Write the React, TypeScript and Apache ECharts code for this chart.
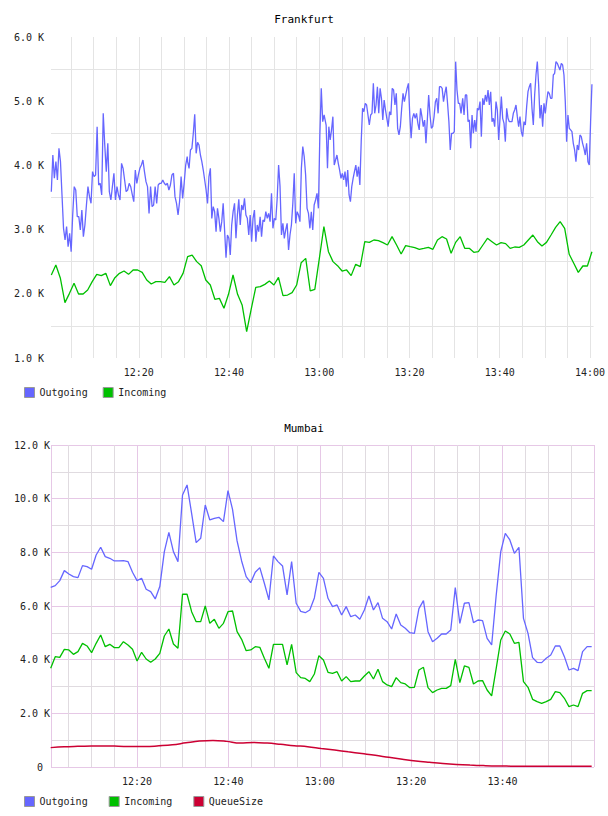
import React, { useEffect, useRef } from "react";
import * as echarts from "echarts";

// ---------- DATA ----------
const TITLES = ["Frankfurt", "Mumbai"];
const LEGEND_FRA = ["Outgoing", "Incoming"];
const LEGEND_MUM = ["Outgoing", "Incoming", "QueueSize"];

// time spans are minutes after 12:00
const FRA_OUT_A_SPAN = [0.62, 30.74];
const FRA_OUT_A = [
  3591, 4162, 3799, 4058, 3773, 4266, 4058, 3539, 3020, 2838, 3046, 2734, 2942, 2656, 3227, 3669, 3617, 3201, 3201,
  2994, 3305, 2890, 3072, 3383, 3669, 3513, 3409, 3903, 3825, 3850, 4603, 3695, 3721, 3539, 4811, 4318, 3903, 4344,
  3591, 3461, 3669, 3877, 3461, 3669, 3539, 3461, 4032, 3954, 3773, 3591, 3617, 3721, 3669, 3550, 3435, 3928, 3721,
  3851, 3954, 4006, 4084, 3903, 3747, 3669, 3253, 3669, 3357, 3383, 3669, 3409, 3695, 3721, 3721, 3773, 3721, 3695,
  3721, 3617, 3695, 3851, 3877, 3513, 3409, 3227, 3435, 3825, 3487, 3721, 4006, 4136,
];
const FRA_OUT_B_SPAN = [30.83, 61.08];
const FRA_OUT_B = [
  4058, 3954, 4240, 4266, 4500, 4796, 4188, 4359, 4318, 4162, 4058, 3928, 3773, 3617, 3409, 3825, 3954, 3175, 3357,
  3279, 2968, 3331, 3175, 2968, 3124, 3409, 2994, 2563, 2916, 2864, 2604, 3072, 3279, 3409, 2864, 3227, 3472, 3072,
  3383, 3305, 3487, 3227, 3175, 2916, 3227, 2812, 3175, 3305, 2812, 3072, 2968, 3201, 2890, 3150, 3124, 3279, 3175,
  3253, 3124, 3565, 3020, 3175, 3150, 3487, 4006, 3669, 2916, 3098, 2864, 2994, 3098, 2682, 2916, 3072, 3409, 3877,
  3098, 3279, 3227, 3124, 3954, 4292, 4136, 3851, 3331, 3253, 3020, 3279, 2994, 3383, 3461, 3565, 3331, 4474, 5200,
  4681, 4785,
];
const FRA_OUT_C_SPAN = [61.53, 91.43];
const FRA_OUT_C = [
  4629, 3954, 4603, 4396, 4552, 4759, 4006, 4084, 4162, 4032, 3928, 3799, 3877, 3773, 3903, 3669, 3928, 3539, 3435,
  3669, 3799, 3903, 4006, 3825, 3980, 3695, 4370, 4889, 4837, 4967, 4941, 4785, 4629, 4785, 4811, 5278, 4811, 4941,
  5226, 4811, 5200, 5045, 4707, 5019, 4863, 4733, 4603, 4837, 4785, 5200, 5174, 4941, 5122, 4578, 4474, 4603, 4889,
  5122, 4993, 5097, 5200, 5278, 4785, 4422, 4733, 4811, 4733, 4811, 4655, 4552, 4889, 4759, 4603, 4707, 4344, 4707,
  5097, 4785, 4578, 4603, 4759, 4993, 5045, 4811, 5226, 5226, 5200, 4993, 5122, 5226, 4967, 4681, 4240, 4500, 4500,
  4526, 5616, 5174, 4967, 4967, 4811,
];
const FRA_OUT_D_SPAN = [91.8, 120.44];
const FRA_OUT_D = [
  5045, 4785, 5097, 5097, 4681, 4707, 4266, 4785, 4500, 4707, 4526, 4889, 4863, 4993, 4448, 5045, 4941, 5097, 4993,
  5174, 4941, 5148, 4681, 4733, 4603, 4993, 4863, 4396, 4733, 5071, 4733, 4655, 4370, 4889, 4733, 4681, 4681, 4681,
  4811, 4863, 4941, 4759, 4603, 4759, 4526, 4448, 4681, 4629, 4915, 5148, 5226, 5278, 4889, 4629, 5097, 5408, 5616,
  5252, 4733, 4941, 4603, 4967, 4811, 4993, 5148, 5122, 5045, 5045, 5408, 5434, 5616, 5590, 5538, 5486, 5590, 5564,
  5408, 4993, 4370, 4785, 4578, 4552, 4526, 4344, 4240, 4058, 4318, 4240, 4474, 4448, 4344, 4266, 4162, 4344, 4058,
  4006, 4681, 5263,
];
const FRA_IN_SPAN = [0.62, 120.44];
const FRA_IN = [
  2293, 2449, 2241, 1862, 2007, 2163, 1997, 1997, 2059, 2189, 2303, 2283, 2319, 2127, 2251, 2319, 2355, 2303, 2371,
  2371, 2334, 2215, 2153, 2189, 2189, 2179, 2267, 2137, 2189, 2319, 2578, 2604, 2501, 2438, 2215, 2137, 1914, 1929,
  1774, 1992, 2293, 1992, 1826, 1410, 1760, 2101, 2111, 2147, 2199, 2137, 2257, 1971, 1981, 2018, 2137, 2485, 2552,
  2044, 2070, 2552, 3046, 2656, 2501, 2438, 2355, 2371, 2283, 2459, 2423, 2812, 2801, 2838, 2828, 2796, 2760, 2890,
  2760, 2620, 2750, 2734, 2719, 2693, 2708, 2724, 2693, 2838, 2890, 2854, 2630, 2801, 2890, 2708, 2708, 2646, 2656,
  2760, 2864, 2812, 2760, 2796, 2781, 2708, 2729, 2724, 2760, 2838, 2916, 2812, 2745, 2801, 2916, 3035, 3124, 3020,
  2615, 2475, 2334, 2433, 2433, 2656,
];

const MUM_SPAN = [1.13, 119.49];
const MUM_OUT = [
  6698, 6760, 6946, 7319, 7194, 7095, 7058, 7505, 7468, 7368, 7902, 8188, 7840, 7778, 7679, 7679, 7691, 7654, 7256,
  6946, 7033, 6623, 6536, 6263, 6723, 8026, 8747, 8026, 7654, 10138, 10511, 9455, 8362, 8523, 9765, 9206, 9269, 9306,
  9144, 10300, 9604, 8424, 7679, 7095, 6871, 7256, 7430, 6847, 6226, 7865, 7654, 7492, 6412, 7654, 6101, 5800, 5750,
  5850, 6300, 7250, 7033, 6288, 5977, 6039, 5665, 5977, 5603, 5665, 5503, 5850, 6375, 5850, 6126, 5541, 5416, 5143,
  5702, 5292, 5168, 5006, 4982, 5900, 6200, 5044, 4671, 4795, 4957, 4957, 5106, 6685, 5354, 6102, 6126, 5379, 5478,
  5454, 4795, 4547, 6400, 8026, 8710, 8461, 7964, 8188, 5540, 4982, 4075, 3901, 3889, 4050, 4174, 4510, 4510, 4112,
  3615, 3677, 3590, 4299, 4485, 4485,
];
const MUM_IN = [
  3678, 4112, 4087, 4385, 4361, 4199, 4299, 4609, 4510, 4261, 4609, 4920, 4485, 4572, 4448, 4448, 4671, 4547, 4385,
  3951, 4274, 4025, 3901, 4025, 4236, 4882, 5143, 4584, 4423, 6437, 6437, 5789, 5416, 5416, 6002, 5354, 5503, 5168,
  5354, 5789, 5814, 5044, 4758, 4336, 4361, 4485, 4460, 4050, 3677, 4572, 4572, 4572, 3802, 4572, 3516, 3330, 3300,
  3181, 3466, 4149, 3988, 3528, 3491, 3553, 3205, 3367, 3181, 3205, 3205, 3392, 3553, 3280, 3640, 3181, 3057, 2994,
  3330, 3143, 3094, 2957, 2970, 3615, 3715, 2957, 2771, 2870, 2932, 2932, 3032, 4013, 3143, 3764, 3715, 3094, 3205,
  3218, 2870, 2647, 3677, 4733, 5069, 4957, 4609, 4646, 3181, 2970, 2522, 2435, 2373, 2435, 2522, 2808, 2771, 2560,
  2249, 2311, 2249, 2746, 2845, 2845,
];
const MUM_QUEUE = [
  722, 755, 770, 780, 785, 775, 760, 760, 790, 830, 900, 965, 990, 955, 890, 915, 890, 845, 795, 755, 690, 630, 565,
  500, 435, 360, 290, 225, 175, 130, 95, 70, 52, 38, 32, 28, 26, 25, 25, 25, 25,
];

// ---------- helpers ----------
const spread = (values: number[], span: number[]) =>
  values.map((v, i) => [span[0] + ((span[1] - span[0]) * i) / (values.length - 1), v]);

const MONO = "DejaVu Sans Mono";
const TXT = "#222";
const BLUE = "#6666ff";
const GREEN = "#00c000";
const RED = "#cc0033";

const timeFmt = (showLast: boolean) => (v: number) => {
  const q = v / 20;
  if (Math.abs(q - Math.round(q)) > 1e-6) return "";
  const m = Math.round(v);
  if (!showLast && m >= 120) return "";
  const h = 12 + Math.floor(m / 60);
  const mm = m % 60;
  return `${h}:${mm < 10 ? "0" + mm : mm}`;
};

export default function App() {
  const ref = useRef<HTMLDivElement>(null);
  useEffect(() => {
    if (!ref.current) return;
    const chart = echarts.init(ref.current, null, { renderer: "svg" });
    const label = { fontFamily: MONO, fontSize: 10, color: TXT };
    const fraOut = [
      ...spread(FRA_OUT_A, FRA_OUT_A_SPAN),
      ...spread(FRA_OUT_B, FRA_OUT_B_SPAN),
      ...spread(FRA_OUT_C, FRA_OUT_C_SPAN),
      ...spread(FRA_OUT_D, FRA_OUT_D_SPAN),
    ];
    const lineSeries = (name: string, data: any, color: string, xi: number, yi: number, extra: any = {}) => ({
      name,
      type: "line",
      data,
      xAxisIndex: xi,
      yAxisIndex: yi,
      symbol: "none",
      showSymbol: false,
      color,
      lineStyle: { color, width: 1.3 },
      emphasis: { disabled: true },
      ...extra,
    });
    chart.setOption({
      animation: false,
      backgroundColor: "#fff",
      title: [
        {
          text: TITLES[0],
          left: "center",
          top: 14,
          padding: 0,
          textStyle: { fontFamily: MONO, fontSize: 11, fontWeight: "normal", color: "#000" },
        },
        {
          text: TITLES[1],
          left: "center",
          top: 423,
          padding: 0,
          textStyle: { fontFamily: MONO, fontSize: 11, fontWeight: "normal", color: "#000" },
        },
      ],
      legend: [
        {
          data: LEGEND_FRA,
          left: 24,
          top: 387,
          padding: 0,
          itemWidth: 10,
          itemHeight: 10,
          itemGap: 15,
          icon: "rect",
          itemStyle: { borderColor: "#999", borderWidth: 1 },
          textStyle: label,
          selectedMode: false,
        },
        {
          data: LEGEND_MUM,
          left: 24,
          top: 796,
          padding: 0,
          itemWidth: 10,
          itemHeight: 10,
          itemGap: 21,
          icon: "rect",
          itemStyle: { borderColor: "#999", borderWidth: 1 },
          textStyle: label,
          selectedMode: false,
        },
      ],
      grid: [
        { left: 51, top: 37, width: 543, height: 321 },
        { left: 51, top: 445, width: 543, height: 322 },
      ],
      xAxis: [
        {
          gridIndex: 0,
          type: "value",
          min: 0.55,
          max: 120.8,
          splitNumber: 24,
          axisLine: { show: false },
          axisTick: { show: false },
          splitLine: { show: true, showMinLine: false, showMaxLine: false, lineStyle: { color: "#e4e4e4", width: 1 } },
          axisLabel: { ...label, margin: 9, formatter: timeFmt(true) },
        },
        {
          gridIndex: 1,
          type: "value",
          position: "top",
          min: 1.2,
          max: 120,
          splitNumber: 24,
          axisLine: { show: false },
          axisTick: { show: false },
          axisLabel: { show: false },
          splitLine: { show: true, lineStyle: { color: "#e0dbe0", width: 1 } },
        },
        {
          gridIndex: 1,
          type: "value",
          position: "bottom",
          min: 1.2,
          max: 120,
          splitNumber: 6,
          axisLine: { show: false },
          axisTick: { show: false },
          splitLine: { show: true, lineStyle: { color: "#e6c8e6", width: 1 } },
          axisLabel: { ...label, margin: 9, formatter: timeFmt(false) },
        },
      ],
      yAxis: [
        {
          gridIndex: 0,
          type: "value",
          min: 1000,
          max: 6000,
          interval: 1000,
          axisLine: { show: false },
          axisTick: { show: false },
          splitLine: { show: false },
          minorTick: { show: false, splitNumber: 2 },
          minorSplitLine: { show: true, lineStyle: { color: "#e4e4e4", width: 1 } },
          axisLabel: { ...label, margin: 7, formatter: (v: number) => (v / 1000).toFixed(1) + " K" },
        },
        {
          gridIndex: 1,
          type: "value",
          min: 0,
          max: 12000,
          interval: 2000,
          axisLine: { show: false },
          axisTick: { show: false },
          splitLine: { show: true, lineStyle: { color: "#e6c8e6", width: 1 } },
          minorTick: { show: false, splitNumber: 2 },
          minorSplitLine: { show: true, lineStyle: { color: "#e0dbe0", width: 1 } },
          axisLabel: {
            ...label,
            margin: 1,
            formatter: (v: number) => (v === 0 ? "{z|0}" : (v / 1000).toFixed(1) + " K"),
            rich: { z: { ...label, padding: [0, 7, 0, 0] } },
          },
        },
      ],
      series: [
        lineSeries("Outgoing", fraOut, BLUE, 0, 0),
        lineSeries("Incoming", spread(FRA_IN, FRA_IN_SPAN), GREEN, 0, 0),
        lineSeries("Outgoing", spread(MUM_OUT, MUM_SPAN), BLUE, 2, 1),
        lineSeries("Incoming", spread(MUM_IN, MUM_SPAN), GREEN, 2, 1),
        lineSeries("QueueSize", spread(MUM_QUEUE, MUM_SPAN), RED, 2, 1, {
          smooth: 0.4,
          lineStyle: { color: RED, width: 1.5 },
        }),
      ],
    });
    return () => chart.dispose();
  }, []);
  return (
    <div
      ref={ref}
      style={{ position: "absolute", left: 0, top: 0, width: 608, height: 816, background: "#fff" }}
    />
  );
}
